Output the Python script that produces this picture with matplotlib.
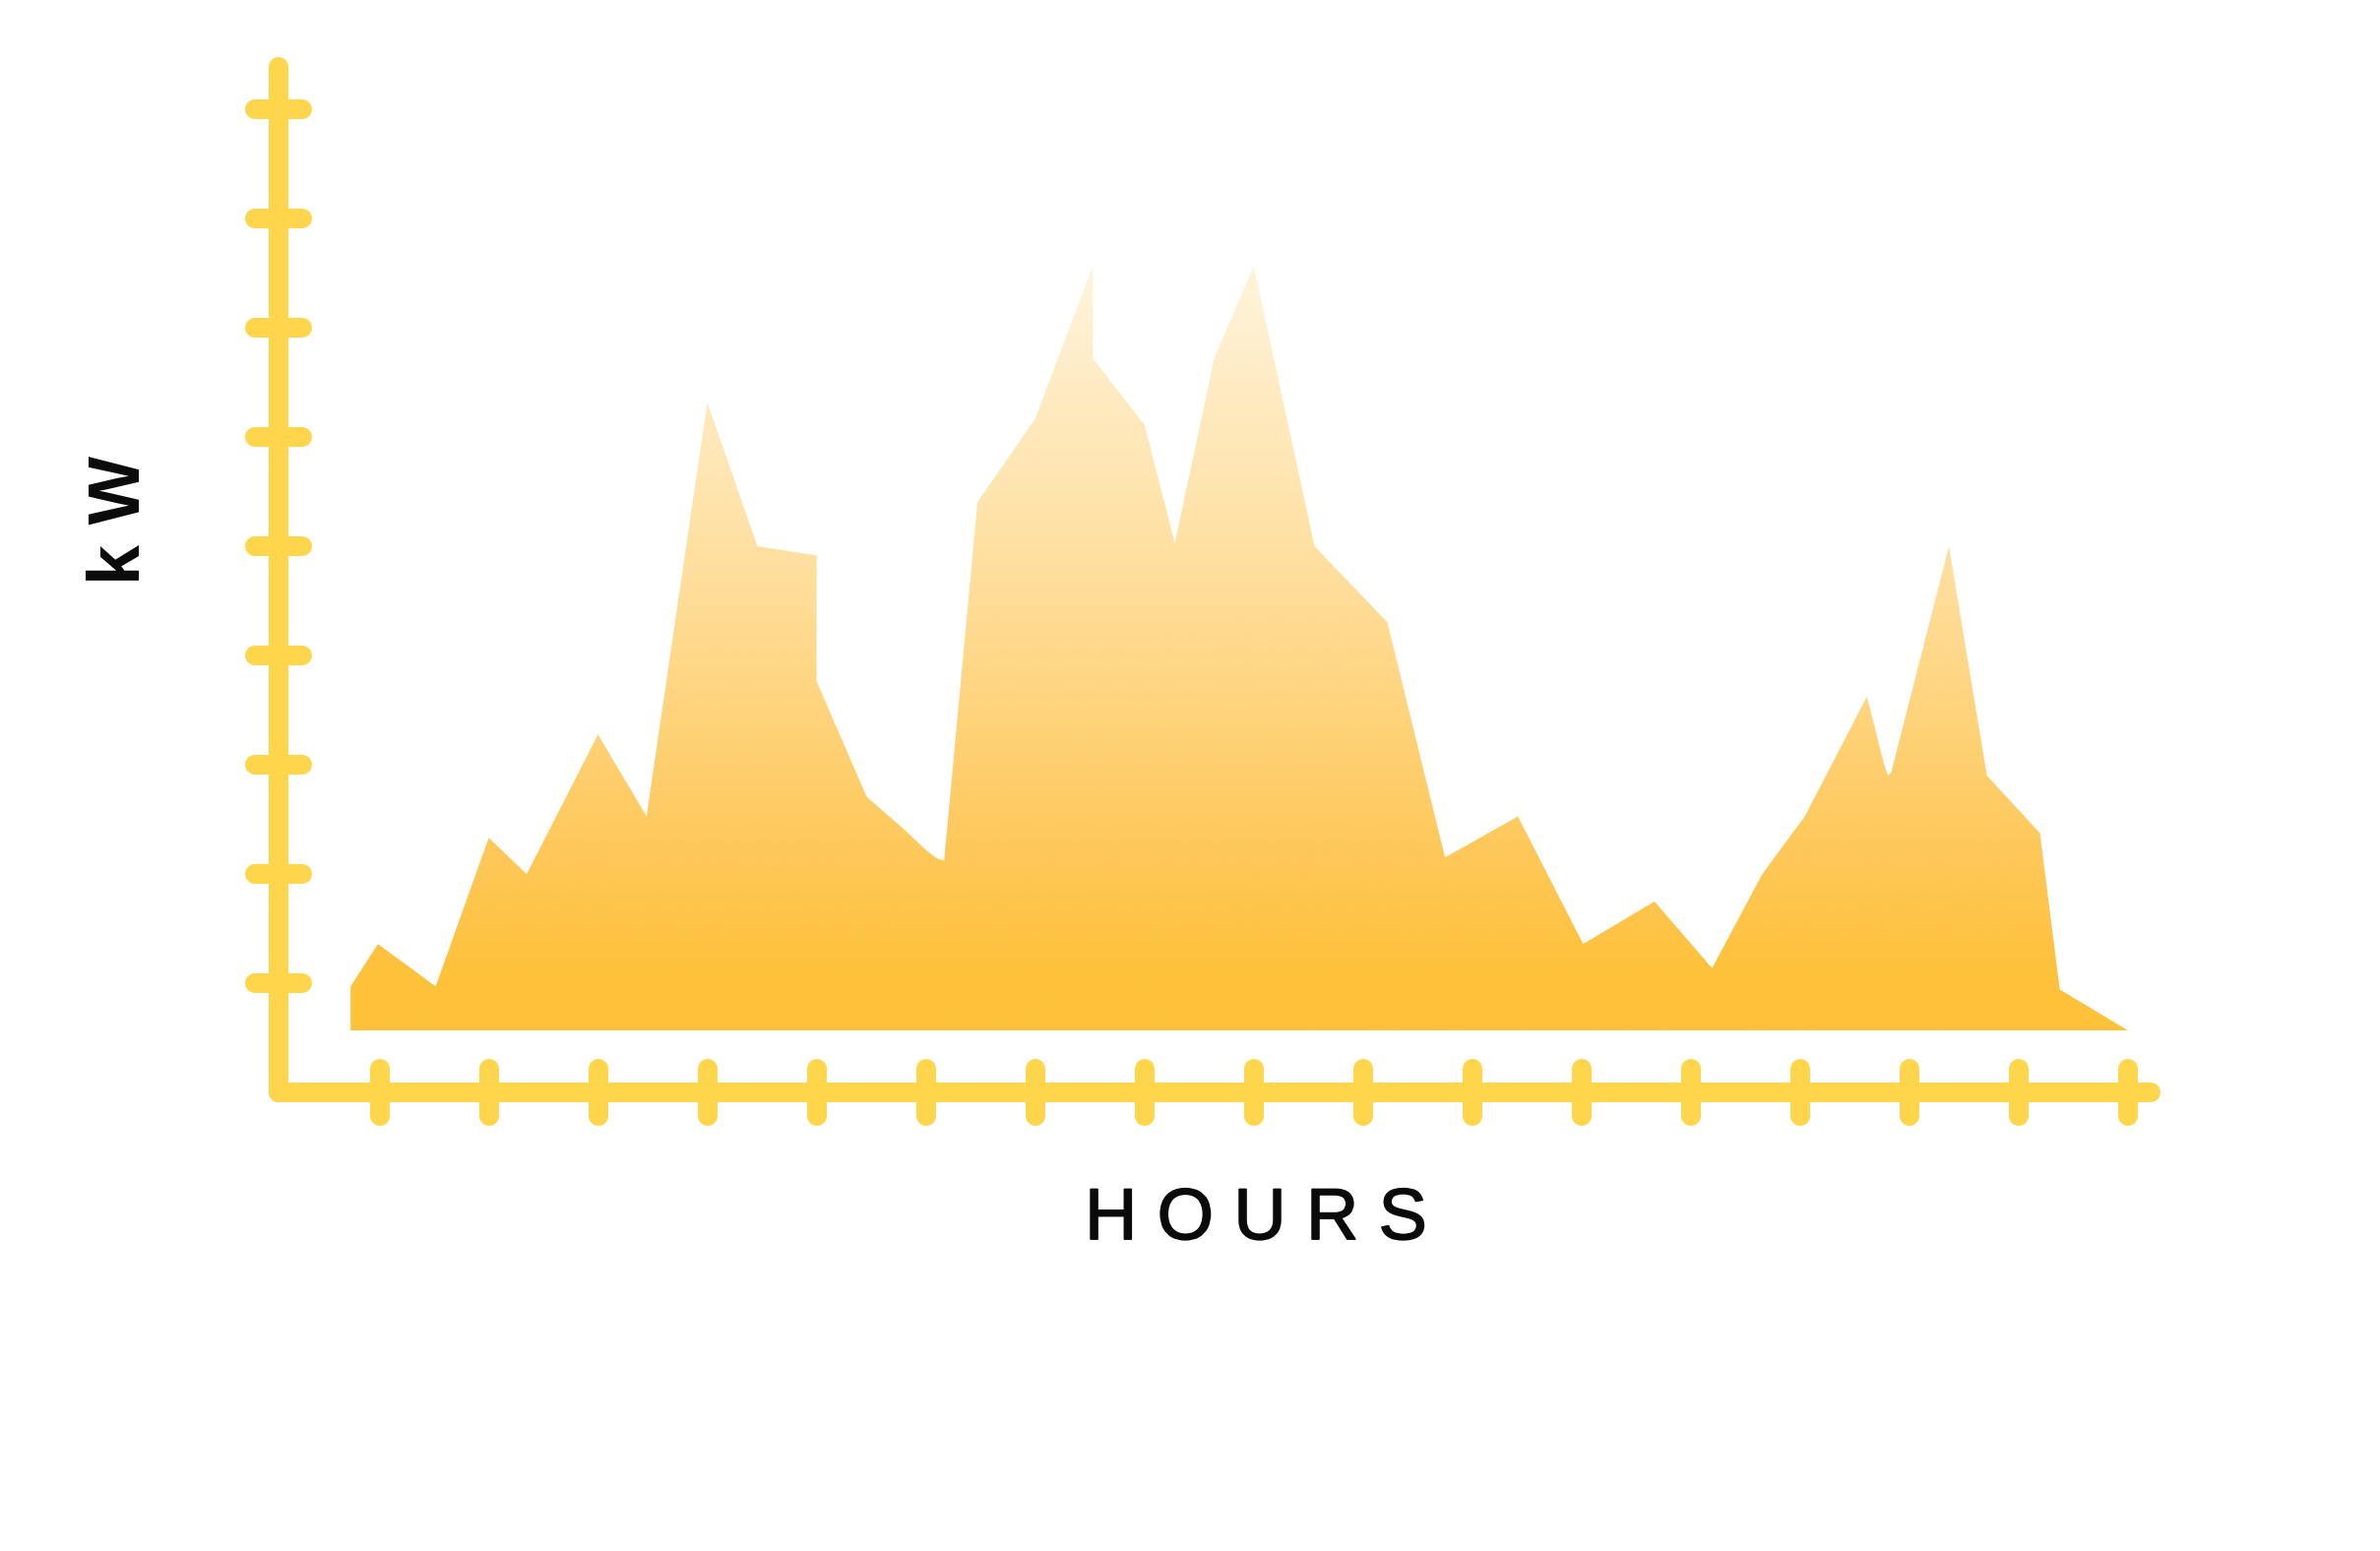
import matplotlib
matplotlib.use("Agg")
from matplotlib import pyplot as plt
from matplotlib.colors import LinearSegmentedColormap
import matplotlib.patheffects as pe
import numpy as np

# load profile (hours, kW)
hours = [0.736, 0.736, 0.986, 1.514, 2.0, 2.347, 3.0, 3.444, 4.0, 4.458,
         5.0, 5.0, 5.458, 5.792, 6.014, 6.111, 6.167, 6.472, 7.0, 7.528,
         7.528, 8.0, 8.278, 8.639, 9.0, 9.556, 10.222, 10.75, 11.417, 12.014,
         12.667, 13.194, 13.653, 14.042, 14.611, 14.667, 14.736, 14.778, 14.806, 14.833,
         15.361, 15.708, 16.194, 16.375, 17.0]
kw = [0.569, 0.972, 1.361, 0.972, 2.333, 2.0, 3.278, 2.528, 6.319, 5.0,
      4.917, 3.764, 2.708, 2.417, 2.208, 2.139, 2.125, 5.403, 6.167, 7.569,
      6.722, 6.111, 5.028, 6.722, 7.569, 5.0, 4.306, 2.153, 2.528, 1.361,
      1.75, 1.139, 2.0, 2.528, 3.625, 3.403, 3.125, 2.972, 2.903, 2.931,
      5.0, 2.903, 2.375, 0.944, 0.569]
baseline = 0.569

x_ticks = list(range(1, 18))
y_ticks = list(range(1, 10))

axis_color = "#FFD54B"
grad_levels = [1.04, 2.21, 4.46, 7.6]
grad_colors = ["#FEC13A", "#FEC85A", "#FEDC96", "#FFF4DD"]

fig = plt.figure(figsize=(24.18, 15.76), dpi=100)
ax = fig.add_axes([0, 0, 1, 1])
ax.set_xlim(-178 / 72, (1568 - 178) / 72)
ax.set_ylim((720 - 1022) / 72, 720 / 72)
ax.axis("off")

# gradient filled area
poly = ax.fill(hours + [hours[-1], hours[0]], kw + [baseline, baseline],
               facecolor="none", edgecolor="none")[0]
lo, hi = min(kw), max(kw)
stops = [(0.0, grad_colors[0])]
for lv, c in zip(grad_levels, grad_colors):
    stops.append(((lv - lo) / (hi + 0.05 - lo), c))
stops.append((1.0, grad_colors[-1]))
cmap = LinearSegmentedColormap.from_list("sun", stops)
grad = np.linspace(0, 1, 400).reshape(-1, 1)
img = ax.imshow(grad, cmap=cmap, origin="lower", aspect="auto",
                extent=[hours[0] - 0.05, hours[-1] + 0.05, lo, hi + 0.05],
                interpolation="bilinear", zorder=1)
img.set_clip_path(poly)

lw = 14.4
y_axis_x = 0.076
# axes
ax.plot([y_axis_x, y_axis_x], [0, 9.385], color=axis_color, lw=lw,
        solid_capstyle="round", zorder=2)
ax.plot([y_axis_x, 17.21], [0, 0], color=axis_color, lw=lw,
        solid_capstyle="round", zorder=2)

# tick marks
th = 0.215
vt = ax.vlines(x_ticks, -th, th, color=axis_color, lw=lw, zorder=3)
vt.set_capstyle("round")
ht = ax.hlines(y_ticks, y_axis_x - th, y_axis_x + th, color=axis_color, lw=lw, zorder=3)
ht.set_capstyle("round")

ax.text(9.02, -1.34, "H O U R S", family="Liberation Sans", fontsize=53,
        ha="center", va="baseline", color="#0a0a0a",
        path_effects=[pe.withStroke(linewidth=1.2, foreground="#0a0a0a")])
ax.text(-1.193, 5.244, "k W", family="Liberation Sans", fontsize=53,
        fontweight="bold", rotation=90, rotation_mode="anchor",
        ha="center", va="baseline", color="#0a0a0a")

fig.savefig("out.png", dpi=100)
